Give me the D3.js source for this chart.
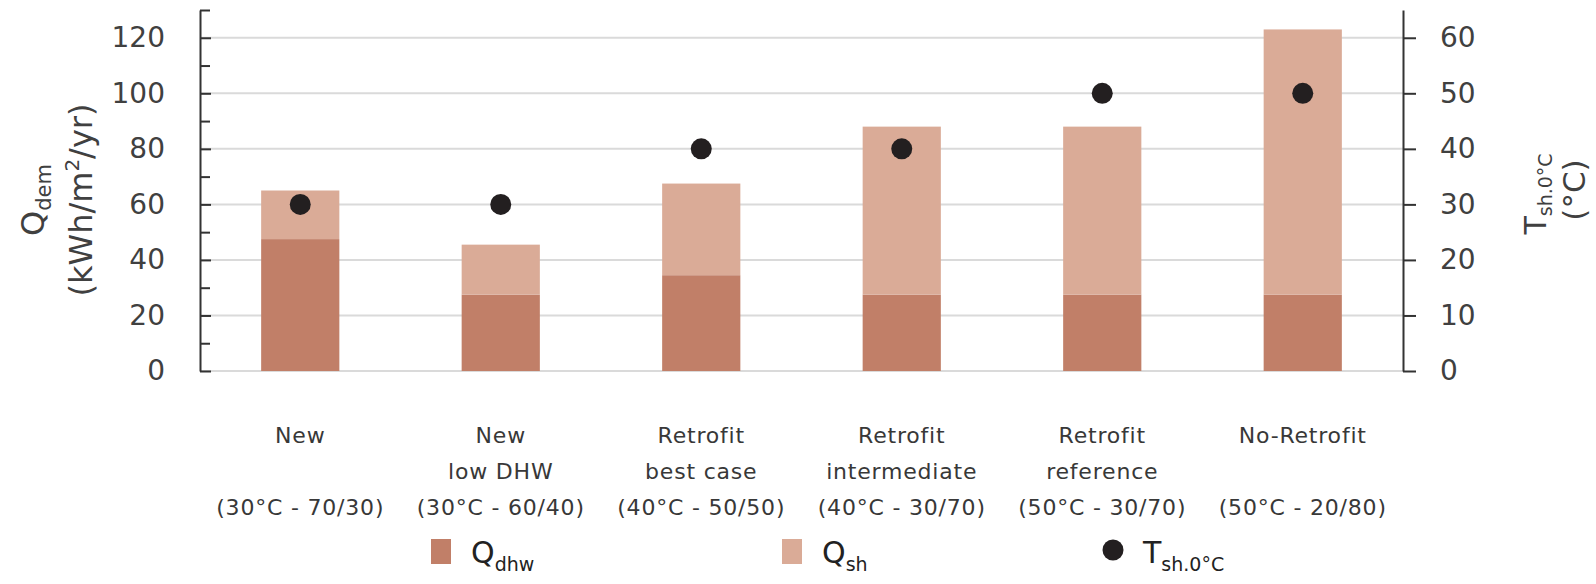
<!DOCTYPE html>
<html>
<head>
<meta charset="utf-8">
<script src="https://cdn.jsdelivr.net/npm/d3@7"></script>
<style>
  html, body { margin: 0; padding: 0; background: #fff; }
  svg { display: block; font-family: "DejaVu Sans", sans-serif; }
</style>
</head>
<body>
<svg id="chart" width="1596" height="584"></svg>
<script>
// Heating-demand scenarios
const categories = ["New", "New low DHW", "Retrofit best case", "Retrofit intermediate", "Retrofit reference", "No-Retrofit"];
const categoryLines = [
  ["New", "", "(30°C - 70/30)"],
  ["New", "low DHW", "(30°C - 60/40)"],
  ["Retrofit", "best case", "(40°C - 50/50)"],
  ["Retrofit", "intermediate", "(40°C - 30/70)"],
  ["Retrofit", "reference", "(50°C - 30/70)"],
  ["No-Retrofit", "", "(50°C - 20/80)"]
];
const qDhw = [47.5, 27.5, 34.5, 27.5, 27.5, 27.5];   // kWh/m²/yr
const qSh = [17.5, 18, 33, 60.5, 60.5, 95.5];        // kWh/m²/yr
const tSupply = [30, 30, 40, 40, 50, 50];            // °C
const leftMajorTicks = [0, 20, 40, 60, 80, 100, 120];
const leftMinorTicks = [10, 30, 50, 70, 90, 110, 130];
const rightTicks = [0, 10, 20, 30, 40, 50, 60];

const colDhw = "#c17f68";
const colSh = "#daab97";
const colDot = "#231f20";
const textCol = "#404040";

const svg = d3.select("#chart");
const plotL = 200, plotR = 1403, plotB = 371, plotT = 10;

const x = d3.scaleBand().domain(categories).range([plotL, plotR])
  .paddingInner(0.61).paddingOuter(0.305);
const yL = d3.scaleLinear().domain([0, 130]).range([plotB, plotT]);
const yR = d3.scaleLinear().domain([0, 65]).range([plotB, plotT]);

// gridlines
svg.append("g").selectAll("line").data(leftMajorTicks).join("line")
  .attr("x1", plotL).attr("x2", plotR)
  .attr("y1", d => yL(d)).attr("y2", d => yL(d))
  .attr("stroke", "#dadada").attr("stroke-width", 2);

// stacked bars
const rows = categories.map((c, i) => ({ cat: c, dhw: qDhw[i], sh: qSh[i] }));
const stacked = d3.stack().keys(["dhw", "sh"])(rows);
const fills = { dhw: colDhw, sh: colSh };
svg.append("g").selectAll("g").data(stacked).join("g")
  .attr("fill", d => fills[d.key])
  .selectAll("rect").data(d => d).join("rect")
  .attr("x", d => x(d.data.cat))
  .attr("width", x.bandwidth())
  .attr("y", d => yL(d[1]))
  .attr("height", d => yL(d[0]) - yL(d[1]));

// supply temperature dots (right axis)
svg.append("g").selectAll("circle").data(tSupply).join("circle")
  .attr("cx", (d, i) => x(categories[i]) + x.bandwidth() / 2)
  .attr("cy", d => yR(d))
  .attr("r", 10.5)
  .attr("fill", colDot);

// left axis
const leftAxis = svg.append("g").attr("transform", `translate(${plotL},0)`)
  .call(d3.axisLeft(yL).tickValues(leftMajorTicks).tickSizeInner(-11).tickSizeOuter(0).tickPadding(35));
svg.append("g").attr("transform", `translate(${plotL},0)`)
  .call(d3.axisLeft(yL).tickValues(leftMinorTicks).tickSizeInner(-10).tickSizeOuter(0).tickFormat(""))
  .call(g => g.select(".domain").remove());

// right axis
const rightAxis = svg.append("g").attr("transform", `translate(${plotR},0)`)
  .call(d3.axisRight(yR).tickValues(rightTicks).tickSizeInner(13).tickSizeOuter(0).tickPadding(24));

svg.selectAll(".tick line, .domain").attr("stroke", "#333").attr("stroke-width", 2);
[leftAxis, rightAxis].forEach(a => a.selectAll(".tick text")
  .attr("font-size", 28).attr("fill", textCol).attr("font-family", "DejaVu Sans"));

// category labels
const lineY = [435, 471, 507];
const cat = svg.append("g").attr("font-size", 22).attr("letter-spacing", 0.8)
  .attr("fill", "#383838").attr("text-anchor", "middle");
categoryLines.forEach((lines, i) => {
  const cx = x(categories[i]) + x.bandwidth() / 2;
  lines.forEach((t, j) => {
    if (!t) return;
    cat.append("text").attr("x", cx).attr("y", lineY[j]).attr("dy", "0.35em").text(t);
  });
});

// axis titles
const lt = svg.append("g").attr("fill", textCol).attr("font-size", 32).attr("text-anchor", "middle");
const t1 = lt.append("text").attr("transform", "translate(44,200) rotate(-90)");
t1.append("tspan").text("Q");
t1.append("tspan").attr("font-size", 21).attr("dy", 7).text("dem");
const t2 = lt.append("text").attr("transform", "translate(92,200) rotate(-90)");
t2.append("tspan").text("(kWh/m");
t2.append("tspan").attr("font-size", 20).attr("dy", -13).text("2");
t2.append("tspan").attr("dy", 13).text("/yr)");

const rt = svg.append("g").attr("fill", textCol).attr("text-anchor", "middle");
const r1 = rt.append("text").attr("font-size", 30).attr("transform", "translate(1546,194) rotate(-90)");
r1.append("tspan").text("T");
r1.append("tspan").attr("font-size", 19).attr("dy", 6).text("sh.0°C");
rt.append("text").attr("font-size", 31).attr("transform", "translate(1585,190) rotate(-90)").text("(°C)");

// legend
const legend = svg.append("g").attr("fill", "#222");
const legendItems = [
  { type: "rect", color: colDhw, x: 431, main: "Q", sub: "dhw" },
  { type: "rect", color: colSh, x: 782, main: "Q", sub: "sh" },
  { type: "dot", color: colDot, x: 1103, main: "T", sub: "sh.0°C" }
];
legendItems.forEach(it => {
  if (it.type === "rect") {
    legend.append("rect").attr("x", it.x).attr("y", 539).attr("width", 20).attr("height", 25).attr("fill", it.color);
  } else {
    legend.append("circle").attr("cx", it.x + 10).attr("cy", 550).attr("r", 10.5).attr("fill", it.color);
  }
  const t = legend.append("text").attr("x", it.x + 40).attr("y", 563).attr("font-size", 30);
  t.append("tspan").text(it.main);
  t.append("tspan").attr("font-size", 19).attr("dy", 8).text(it.sub);
});
</script>
</body>
</html>
